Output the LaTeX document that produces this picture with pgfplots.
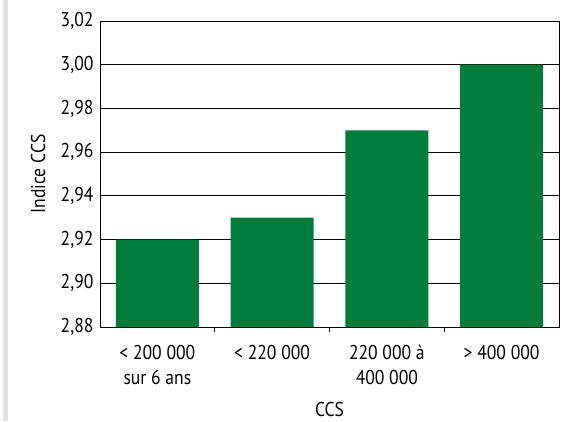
\documentclass[border=0pt]{standalone}
\usepackage{fontspec}
\setmainfont{PT Sans}[FakeStretch=0.88]
\usepackage{pgfplots}
\pgfplotsset{compat=1.18}
\definecolor{bargreen}{RGB}{0,125,58}
\newcommand{\chartfont}{\fontsize{20}{25}\selectfont}
\pgfplotstableread{
x y
0 2.92
1 2.93
2 2.97
3 3.00
}\ccsdata
\begin{document}
\begin{tikzpicture}
\path[use as bounding box] (0pt,0pt) rectangle (569pt,421pt);
\fill[black!12] (3pt,0pt) rectangle (8pt,421pt);
\begin{axis}[
  at={(100pt,94pt)}, anchor=south west,
  scale only axis, width=459pt, height=306pt,
  every tick label/.append style={font=\chartfont},
  label style={font=\chartfont},
  xmin=-0.5, xmax=3.5,
  ymin=2.88, ymax=3.02,
  ytick={2.88,2.90,2.92,2.94,2.96,2.98,3.00,3.02},
  yticklabel style={xshift=-3pt, /pgf/number format/.cd, fixed, fixed zerofill, precision=2, use comma, assume math mode=true},
  ymajorgrids,
  grid style={black, line width=0.8pt},
  axis line style={black, line width=0.8pt},
  ytick style={draw=none},
  xtick={0,1,2,3},
  xticklabels={{< 200 000\\sur 6 ans},{< 220 000},{220 000 à\\400 000},{> 400 000}},
  xticklabel style={align=center, yshift=-10pt},
  major x tick style={draw=none},
  minor xtick={0.5,1.5,2.5},
  minor x tick style={black, line width=0.8pt},
  minor tick length=5pt,
  tick align=inside,
  xtick pos=bottom,
  ytick pos=left,
  xlabel={CCS},
  ylabel={Indice CCS},
  xlabel style={at={(axis description cs:0.5,-0.27)}, anchor=center},
  ylabel style={at={(axis description cs:-0.135,0.5)}, anchor=center},
  ybar, bar width=83pt,
]
\addplot[fill=bargreen, draw=none, bar shift=0pt] table[x=x, y=y] {\ccsdata};
\end{axis}
\end{tikzpicture}
\end{document}
